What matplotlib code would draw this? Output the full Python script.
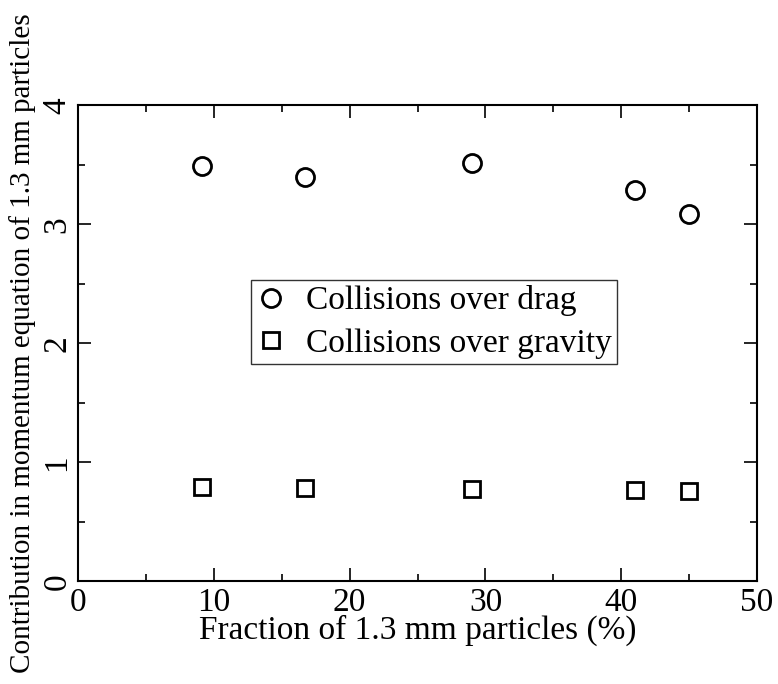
import matplotlib
matplotlib.use("Agg")
import matplotlib.pyplot as plt
from matplotlib.ticker import MultipleLocator

plt.rcParams['font.family'] = ['Liberation Serif', 'DejaVu Serif']

# Data
fraction = [9.1, 16.7, 29.0, 41.0, 45.0]
coll_over_drag = [3.49, 3.40, 3.52, 3.29, 3.09]
coll_over_gravity = [0.79, 0.785, 0.78, 0.77, 0.76]

x_label = "Fraction of 1.3 mm particles (%)"
y_label = "Contribution in momentum equation of 1.3 mm particles"
labels = ["Collisions over drag", "Collisions over gravity"]

fig = plt.figure(figsize=(7.78, 6.84), dpi=100)
ax = fig.add_axes([0.1003, 0.1499, 0.8728, 0.696])

ax.plot(fraction, coll_over_drag, linestyle='none', marker='o', markersize=13,
        markerfacecolor='none', markeredgecolor='black', markeredgewidth=2.0,
        label=labels[0])
ax.plot(fraction, coll_over_gravity, linestyle='none', marker='s', markersize=12,
        markerfacecolor='none', markeredgecolor='black', markeredgewidth=2.0,
        label=labels[1])

ax.set_xlim(0, 50)
ax.set_ylim(0, 4)
ax.xaxis.set_major_locator(MultipleLocator(10))
ax.xaxis.set_minor_locator(MultipleLocator(5))
ax.yaxis.set_major_locator(MultipleLocator(1))
ax.yaxis.set_minor_locator(MultipleLocator(0.5))

for s in ax.spines.values():
    s.set_linewidth(1.5)

ax.tick_params(which='both', direction='in', top=True, right=True, width=1.2)
ax.tick_params(which='major', length=9.5, labelsize=24, pad=4)
ax.tick_params(which='minor', length=5)
for lbl in ax.get_yticklabels():
    lbl.set_rotation(90)
    lbl.set_va('center')

ax.set_xlabel(x_label, fontsize=24, labelpad=-2)
ax.set_ylabel(y_label, fontsize=21, labelpad=4)

leg = ax.legend(loc='center', bbox_to_anchor=(0.524, 0.545), fontsize=24,
                frameon=True, fancybox=False, edgecolor='black',
                handlelength=0.9, handletextpad=0.6, borderpad=0.15,
                labelspacing=0.35, borderaxespad=0)
leg.get_frame().set_linewidth(1.0)

fig.savefig("out.png", dpi=100)
